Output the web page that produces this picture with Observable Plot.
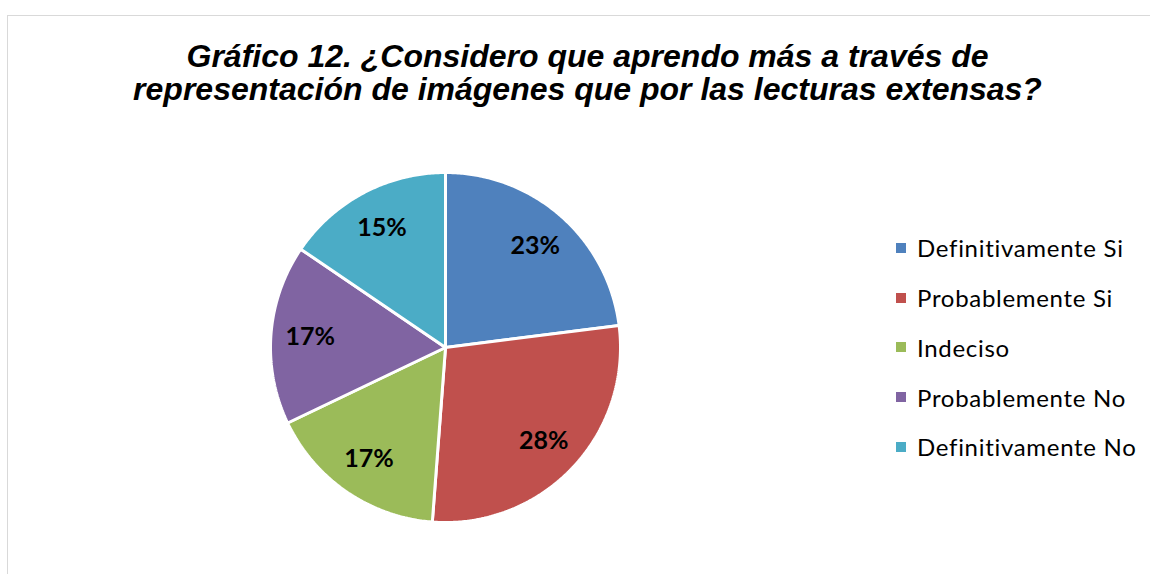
<!DOCTYPE html>
<html>
<head>
<meta charset="utf-8">
<script src="https://cdn.jsdelivr.net/npm/d3@7"></script>
<script src="https://cdn.jsdelivr.net/npm/@observablehq/plot@0.6"></script>
<style>
  html, body { margin: 0; padding: 0; background: #fff; }
  #wrap { position: relative; width: 1150px; height: 574px; overflow: hidden; }
  #frame { position: absolute; left: 7px; top: 15px; width: 1200px; height: 700px;
           border: 1.5px solid #d9d9d9; box-sizing: border-box; }
  #title { position: absolute; left: 0; top: 40px; width: 1175px; text-align: center;
           font-family: "Liberation Sans", Arial, sans-serif; font-weight: bold; font-style: italic;
           font-size: 32px; line-height: 33px; color: #000; }
  #chart { position: absolute; left: 0; top: 0; }
  #legend { position: absolute; left: 896px; top: 223px; font-family: Lato, "Open Sans", sans-serif;
            font-size: 24px; letter-spacing: 0.7px; color: #000; }
  .item { height: 49.75px; display: flex; align-items: center; white-space: nowrap; }
  .sw { width: 10px; height: 10px; margin-right: 11px; flex: none; }
</style>
</head>
<body>
<div id="wrap">
  <div id="frame"></div>
  <div id="title"></div>
  <div id="chart"></div>
  <div id="legend"></div>
</div>
<script>
const titleLines = ["Gráfico 12. ¿Considero que aprendo más a través de",
                    "representación de imágenes que por las lecturas extensas?"];
const categories = ["Definitivamente Si", "Probablemente Si", "Indeciso", "Probablemente No", "Definitivamente No"];
const values = [23.0, 28.2, 16.7, 16.6, 15.5];
const labels = ["23%", "28%", "17%", "17%", "15%"];
const colors = ["#4F81BD", "#C0504D", "#9BBB59", "#8064A2", "#4BACC6"];

document.getElementById("title").innerHTML = titleLines.join("<br>");

const table = categories.map((c, i) => ({category: c, value: values[i], label: labels[i]}));
const arcs = d3.pie().sort(null).value(d => d.value)(table);

// slice outlines in unit-circle coordinates (angle from top, clockwise)
const slicePts = [];
arcs.forEach(a => {
  const n = Math.max(2, Math.ceil((a.endAngle - a.startAngle) / 0.01));
  slicePts.push({category: a.data.category, x: 0, y: 0});
  for (let k = 0; k <= n; k++) {
    const t = a.startAngle + (a.endAngle - a.startAngle) * k / n;
    slicePts.push({category: a.data.category, x: Math.sin(t), y: Math.cos(t)});
  }
  slicePts.push({category: a.data.category, x: 0, y: 0});
});
const labelPts = arcs.map(a => {
  const m = (a.startAngle + a.endAngle) / 2;
  return {label: a.data.label, x: 0.775 * Math.sin(m), y: 0.775 * Math.cos(m)};
});

const cx = 445, cy = 347, r = 175;
const W = 1150, H = 574;
const plot = Plot.plot({
  width: W, height: H,
  marginLeft: cx - r, marginRight: W - (cx + r),
  marginTop: cy - r, marginBottom: H - (cy + r),
  x: {domain: [-1, 1], axis: null},
  y: {domain: [-1, 1], axis: null},
  color: {domain: categories, range: colors},
  style: {background: "transparent", overflow: "visible"},
  marks: [
    Plot.line(slicePts, {x: "x", y: "y", z: "category", fill: "category", stroke: "white", strokeWidth: 3, strokeLinejoin: "miter"}),
    Plot.text(labelPts, {x: "x", y: "y", text: "label", fontSize: 25, fontWeight: "bold", fill: "black",
      fontFamily: "Lato, 'Open Sans', sans-serif"})
  ]
});
document.getElementById("chart").appendChild(plot);

const legend = document.getElementById("legend");
categories.forEach((c, i) => {
  const it = document.createElement("div");
  it.className = "item";
  it.innerHTML = `<span class="sw" style="background:${colors[i]}"></span><span>${c}</span>`;
  legend.appendChild(it);
});
</script>
</body>
</html>
